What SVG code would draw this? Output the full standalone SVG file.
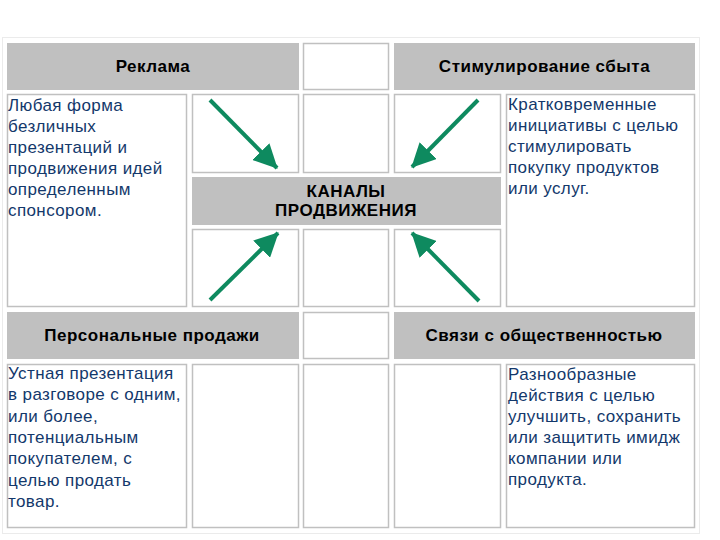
<svg xmlns="http://www.w3.org/2000/svg" width="720" height="540" viewBox="0 0 720 540">
<style>
.c{fill:#ffffff;stroke:#c0c0c0;stroke-width:1.5}
.h{fill:#c0c0c0;stroke:#c0c0c0;stroke-width:1}
.ht{font-family:"Liberation Sans",Arial,sans-serif;font-weight:bold;font-size:17px;letter-spacing:0.5px;fill:#000;text-anchor:middle}
.bt{font-family:"Liberation Sans",Arial,sans-serif;font-size:17px;letter-spacing:0.4px;fill:#13386b}
.ar{stroke:#0e8a5f;stroke-width:4;fill:none;marker-end:url(#ah)}
</style>
<defs>
<marker id="ah" viewBox="0 0 24 24" markerWidth="24" markerHeight="24" refX="23" refY="12" orient="auto" markerUnits="userSpaceOnUse">
<path d="M0,0 L24,12 L0,24 z" fill="#0e8a5f"/>
</marker>
</defs>
<rect x="0" y="0" width="720" height="540" fill="#ffffff"/>
<rect x="2.5" y="37.5" width="697" height="496" fill="#ffffff" stroke="#ebebeb" stroke-width="1"/>

<g id="reklama-header">
<rect class="h" x="7.5" y="43.5" width="291" height="46"/>
<text class="ht" x="153" y="72">Реклама</text>
</g>
<g id="empty-r1c3"><rect class="c" x="303.5" y="43.5" width="85" height="46"/></g>
<g id="stimul-header">
<rect class="h" x="394.5" y="43.5" width="300" height="46"/>
<text class="ht" x="544.5" y="72">Стимулирование сбыта</text>
</g>

<g id="reklama-text">
<rect class="c" x="7.5" y="94.5" width="179" height="212"/>
<text class="bt" x="8" y="111">Любая форма</text>
<text class="bt" x="8" y="132">безличных</text>
<text class="bt" x="8" y="153">презентаций и</text>
<text class="bt" x="8" y="174">продвижения идей</text>
<text class="bt" x="8" y="195">определенным</text>
<text class="bt" x="8" y="216">спонсором.</text>
</g>
<g id="cell-r2c2"><rect class="c" x="192.5" y="94.5" width="106" height="78"/></g>
<g id="cell-r2c3"><rect class="c" x="303.5" y="94.5" width="85" height="78"/></g>
<g id="cell-r2c4"><rect class="c" x="394.5" y="94.5" width="106" height="78"/></g>
<g id="stimul-text">
<rect class="c" x="506.5" y="94.5" width="188" height="212"/>
<text class="bt" x="508" y="110">Кратковременные</text>
<text class="bt" x="508" y="131">инициативы с целью</text>
<text class="bt" x="508" y="152">стимулировать</text>
<text class="bt" x="508" y="173">покупку продуктов</text>
<text class="bt" x="508" y="194">или услуг.</text>
</g>

<g id="kanaly">
<rect class="h" x="192.5" y="177.5" width="308" height="47"/>
<text class="ht" x="346" y="197">КАНАЛЫ</text>
<text class="ht" x="346" y="216">ПРОДВИЖЕНИЯ</text>
</g>

<g id="cell-r4c2"><rect class="c" x="192.5" y="229.5" width="106" height="77"/></g>
<g id="cell-r4c3"><rect class="c" x="303.5" y="229.5" width="85" height="77"/></g>
<g id="cell-r4c4"><rect class="c" x="394.5" y="229.5" width="106" height="77"/></g>

<g id="personal-header">
<rect class="h" x="7.5" y="312.5" width="291" height="46"/>
<text class="ht" x="152" y="341">Персональные продажи</text>
</g>
<g id="empty-r5c3"><rect class="c" x="303.5" y="312.5" width="85" height="46"/></g>
<g id="pr-header">
<rect class="h" x="394.5" y="312.5" width="300" height="46"/>
<text class="ht" x="544" y="341">Связи с общественностью</text>
</g>

<g id="personal-text">
<rect class="c" x="7.5" y="364.5" width="179" height="163"/>
<text class="bt" x="8" y="379">Устная презентация</text>
<text class="bt" x="8" y="400">в разговоре с одним,</text>
<text class="bt" x="8" y="421.5">или более,</text>
<text class="bt" x="8" y="443">потенциальным</text>
<text class="bt" x="8" y="464">покупателем, с</text>
<text class="bt" x="8" y="485.5">целью продать</text>
<text class="bt" x="8" y="507">товар.</text>
</g>
<g id="cell-r6c2"><rect class="c" x="192.5" y="364.5" width="106" height="163"/></g>
<g id="cell-r6c3"><rect class="c" x="303.5" y="364.5" width="85" height="163"/></g>
<g id="cell-r6c4"><rect class="c" x="394.5" y="364.5" width="106" height="163"/></g>
<g id="pr-text">
<rect class="c" x="506.5" y="364.5" width="188" height="163"/>
<text class="bt" x="508" y="380">Разнообразные</text>
<text class="bt" x="508" y="401">действия с целью</text>
<text class="bt" x="508" y="422">улучшить, сохранить</text>
<text class="bt" x="508" y="443">или защитить имидж</text>
<text class="bt" x="508" y="464">компании или</text>
<text class="bt" x="508" y="485">продукта.</text>
</g>

<g id="connectors">
<line class="ar" x1="210" y1="100" x2="277" y2="168"/>
<line class="ar" x1="478" y1="100" x2="412" y2="167"/>
<line class="ar" x1="210" y1="300" x2="278" y2="233"/>
<line class="ar" x1="479" y1="301" x2="412" y2="233"/>
</g>
</svg>
